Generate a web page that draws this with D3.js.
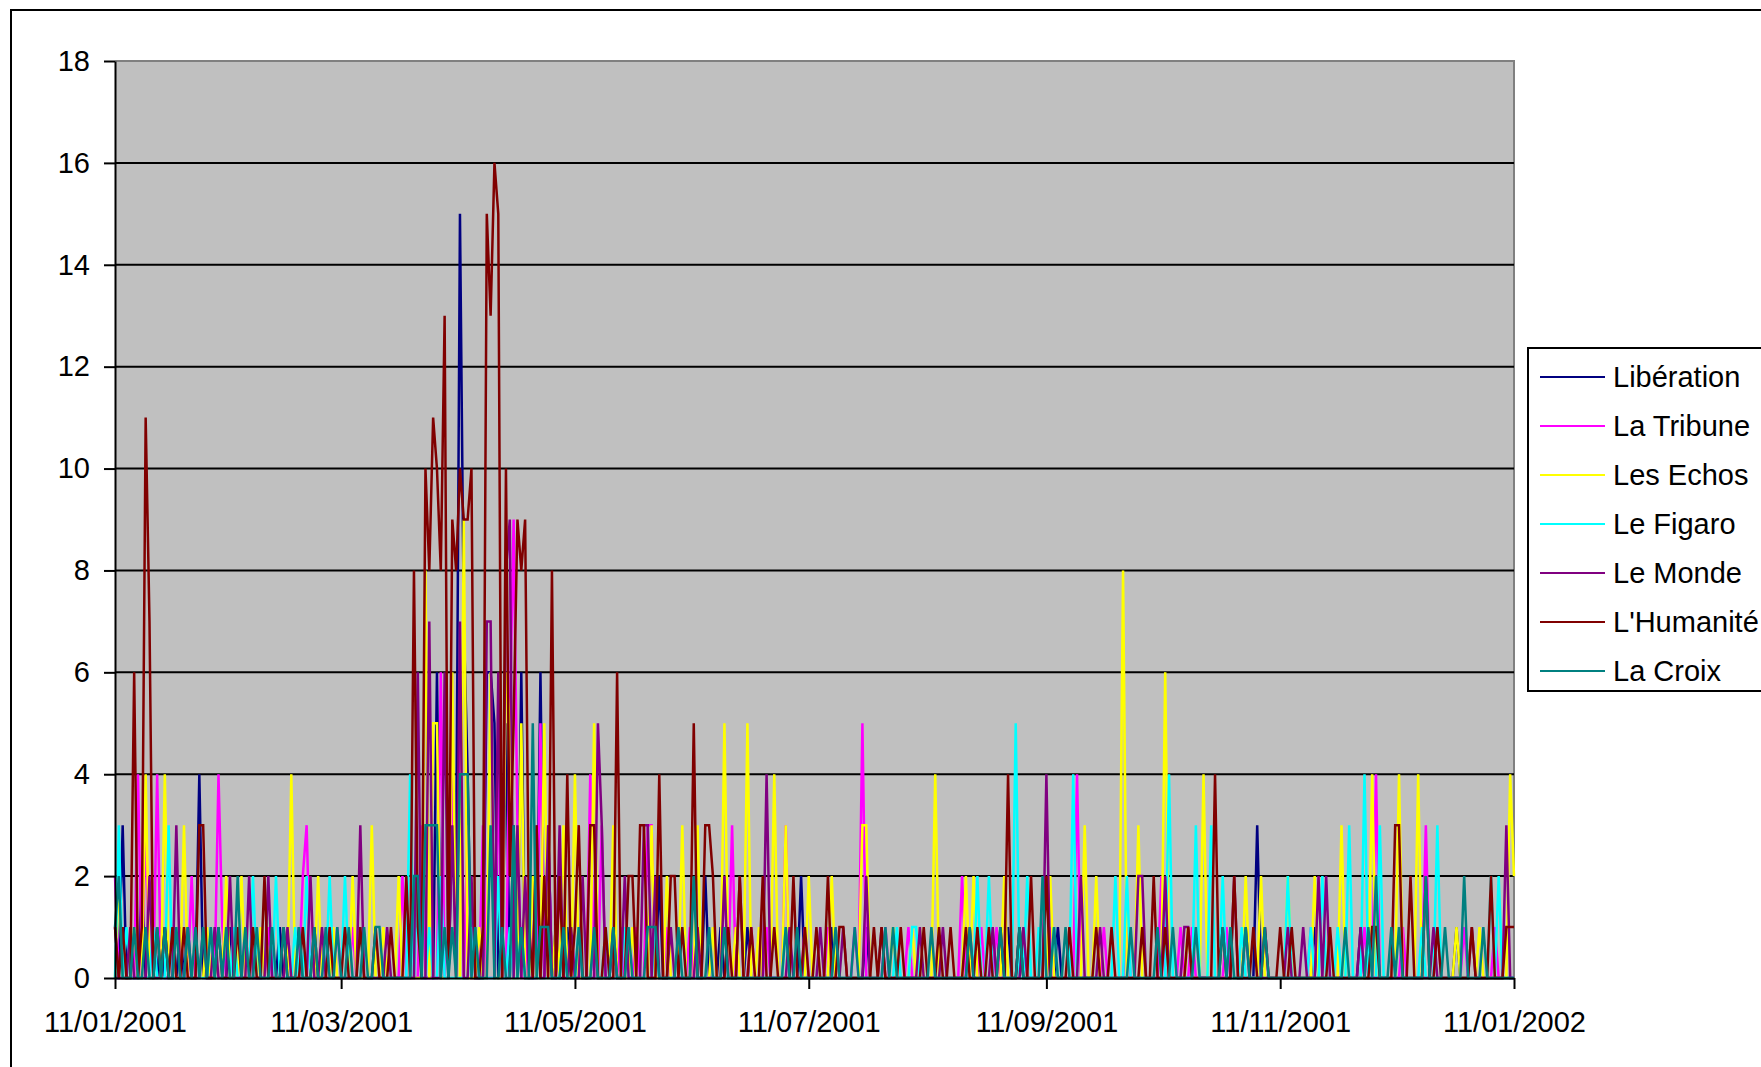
<!DOCTYPE html>
<html>
<head>
<meta charset="utf-8">
<script src="https://cdn.jsdelivr.net/npm/d3@7"></script>
<style>
  html, body { margin: 0; padding: 0; background: #fff; overflow: hidden; }
  svg { display: block; }
  text { font-family: "Liberation Sans", Arial, sans-serif; fill: #000; }
</style>
</head>
<body>
<div id="chart"></div>
<script>
// Daily counts per newspaper, 11/01/2001 -> 11/01/2002.
// Each pair is [day offset from 11/01/2001, count]; days not listed are 0.
const startDate = "2001-01-11";
const endDate = "2002-01-11";

const liberation = [[2,3],[7,2],[12,1],[17,1],[22,4],[30,1],[43,1],[48,1],[84,6],[88,3],[89,2],[90,15],[91,7],[92,4],
  [97,6],[98,6],[99,5],[102,5],[104,3],[106,6],[111,6],[113,3],[115,1],[118,1],[125,1],[130,1],[142,2],[154,2],
  [158,1],[165,1],[179,2],[187,1],[196,1],[233,1],[236,1],[246,1],[298,3],[313,1],[325,1],[350,1]];

const laTribune = [[0,2],[6,4],[8,3],[11,4],[20,2],[27,4],[28,1],[34,1],[40,1],[49,2],[50,3],[55,1],[58,1],[62,1],
  [75,2],[80,3],[85,6],[88,4],[90,5],[92,3],[96,3],[100,4],[103,5],[104,9],[105,3],[108,2],[111,5],[113,3],[116,2],
  [119,1],[124,4],[127,3],[132,1],[136,1],[139,3],[140,3],[144,1],[150,1],[159,2],[161,3],[166,1],[170,1],[175,3],
  [180,1],[186,1],[193,1],[195,5],[201,1],[207,1],[221,2],[226,1],[230,1],[244,1],[251,4],[258,1],[264,1],[273,2],
  [278,1],[281,1],[290,1],[300,1],[312,1],[326,1],[329,4],[336,1],[342,3],[345,1],[352,1],[360,1]];

const lesEchos = [[1,2],[5,1],[8,4],[13,4],[18,3],[24,1],[29,2],[33,2],[38,1],[46,4],[53,2],[57,1],[62,2],[67,3],
  [70,1],[74,2],[81,8],[83,5],[84,5],[88,6],[91,9],[95,1],[98,6],[102,6],[103,5],[106,5],[109,2],[112,5],[115,1],
  [117,3],[120,4],[125,5],[130,3],[135,1],[140,3],[144,2],[148,3],[152,3],[156,1],[159,5],[162,1],[165,5],[168,1],
  [172,4],[175,3],[181,2],[187,2],[195,3],[196,3],[203,1],[208,1],[210,1],[214,4],[222,2],[224,2],[232,2],[244,2],
  [253,3],[256,2],[263,8],[267,3],[274,6],[280,1],[284,4],[295,2],[299,2],[306,2],[313,2],[320,3],[328,4],[335,4],
  [340,4],[350,1],[356,1],[364,4],[365,2]];

const leFigaro = [[1,3],[3,1],[10,1],[14,3],[19,1],[25,1],[31,1],[36,2],[42,2],[47,1],[50,2],[56,2],[60,2],[64,1],
  [77,4],[79,2],[82,1],[85,2],[93,1],[100,2],[103,1],[106,1],[117,1],[121,1],[128,1],[133,1],[141,1],[148,1],
  [175,1],[204,1],[208,1],[209,1],[225,2],[228,2],[235,5],[238,2],[241,1],[245,1],[250,4],[261,2],[264,2],[275,4],
  [282,3],[286,3],[289,2],[294,1],[306,2],[312,1],[315,2],[319,1],[322,3],[326,4],[330,3],[341,1],[345,3],[359,2],
  [361,2]];

const leMonde = [[0,1],[4,1],[9,2],[13,1],[16,3],[19,1],[23,1],[26,1],[30,2],[35,2],[40,2],[45,1],[51,2],[54,1],
  [64,3],[71,1],[79,6],[82,7],[86,6],[88,3],[90,7],[93,2],[97,7],[98,7],[100,6],[102,8],[103,9],[105,3],[107,2],
  [110,3],[113,3],[116,3],[119,1],[122,2],[126,5],[127,3],[130,1],[133,2],[138,3],[139,3],[141,2],[145,1],[152,1],
  [159,2],[163,2],[170,4],[176,1],[184,1],[190,1],[196,2],[200,1],[210,1],[216,1],[223,1],[229,1],[237,1],[243,4],
  [252,2],[257,1],[267,2],[268,2],[274,2],[279,1],[280,1],[292,2],[295,1],[306,1],[310,1],[314,2],[316,2],[325,1],
  [344,1],[354,1],[363,3]];

const lHumanite = [[0,1],[2,1],[5,6],[7,1],[8,11],[9,7],[11,1],[13,1],[15,1],[18,1],[22,3],[23,3],[27,1],[32,1],
  [36,1],[39,2],[44,1],[49,1],[52,1],[56,1],[60,1],[64,1],[68,1],[72,1],[76,2],[78,8],[79,1],[81,10],[82,8],[83,11],
  [84,10],[85,8],[86,13],[88,9],[89,8],[90,10],[91,9],[92,9],[93,10],[96,1],[97,15],[98,13],[99,16],[100,15],
  [102,10],[103,2],[104,5],[105,9],[106,8],[107,9],[108,1],[110,3],[112,2],[114,8],[116,2],[118,4],[120,1],[121,3],
  [124,3],[125,3],[128,1],[131,6],[134,2],[135,2],[137,3],[138,3],[142,4],[145,2],[146,2],[148,1],[151,5],[154,3],
  [155,3],[156,2],[160,1],[163,2],[166,1],[169,2],[172,1],[177,2],[180,1],[183,1],[186,2],[189,1],[190,1],[198,1],
  [200,1],[205,1],[211,1],[215,1],[218,1],[222,1],[225,1],[228,1],[231,1],[233,4],[236,1],[239,2],[243,2],[249,1],
  [256,1],[260,1],[268,1],[271,2],[274,1],[280,1],[287,4],[289,1],[292,2],[297,1],[300,1],[304,1],[307,1],[317,1],
  [328,1],[329,1],[334,3],[335,3],[338,2],[342,2],[345,1],[354,1],[359,2],[363,1],[364,1],[365,1]];

const laCroix = [[0,1],[1,2],[5,1],[8,1],[11,1],[13,1],[16,1],[19,1],[21,1],[23,1],[25,1],[27,1],[29,1],[32,2],
  [34,1],[37,1],[41,1],[44,1],[48,1],[52,1],[55,1],[58,1],[61,1],[65,1],[68,1],[69,1],[78,2],[79,2],[81,3],[82,3],
  [83,3],[84,3],[86,1],[88,1],[90,4],[91,4],[92,4],[94,1],[98,3],[101,1],[104,3],[106,1],[109,5],[111,1],[112,1],
  [113,1],[117,1],[121,1],[125,1],[130,1],[134,1],[139,1],[140,1],[141,1],[147,1],[151,2],[155,1],[159,1],[175,1],
  [178,1],[188,1],[193,1],[201,1],[203,1],[213,1],[223,1],[231,1],[236,1],[242,2],[245,1],[248,1],[265,1],[272,1],
  [276,1],[282,1],[289,1],[291,1],[295,1],[300,1],[321,1],[327,1],[329,2],[333,1],[335,1],[342,2],[347,1],[352,2],
  [357,1]];

const seriesNames = ["Libération", "La Tribune", "Les Echos", "Le Figaro", "Le Monde", "L'Humanité", "La Croix"];
const seriesColors = ["#000080", "#FF00FF", "#FFFF00", "#00FFFF", "#800080", "#800000", "#008080"];
const seriesData = [liberation, laTribune, lesEchos, leFigaro, leMonde, lHumanite, laCroix];

const yTicks = [0, 2, 4, 6, 8, 10, 12, 14, 16, 18];
const xTickDates = ["2001-01-11", "2001-03-11", "2001-05-11", "2001-07-11", "2001-09-11", "2001-11-11", "2002-01-11"];

const W = 1761, H = 1067;
const plot = { left: 115, right: 1514, top: 61, bottom: 978 };

const parse = d3.utcParse("%Y-%m-%d");
const fmt = d3.utcFormat("%d/%m/%Y");
const t0 = parse(startDate);
const nDays = d3.utcDay.count(t0, parse(endDate));

const svg = d3.select("#chart").append("svg")
  .attr("width", W).attr("height", H);

// outer chart frame (runs past the right and bottom edges)
svg.append("rect")
  .attr("x", 11).attr("y", 10)
  .attr("width", 1850).attr("height", 1150)
  .attr("fill", "#fff").attr("stroke", "#000").attr("stroke-width", 2);

const x = d3.scaleUtc().domain([t0, parse(endDate)]).range([plot.left, plot.right]);
const y = d3.scaleLinear().domain([0, 18]).range([plot.bottom, plot.top]);

// plot area
svg.append("rect")
  .attr("x", plot.left).attr("y", plot.top)
  .attr("width", plot.right - plot.left).attr("height", plot.bottom - plot.top)
  .attr("fill", "#C0C0C0");
svg.append("path")
  .attr("d", `M${plot.left},${plot.top}H${plot.right}V${plot.bottom}`)
  .attr("fill", "none").attr("stroke", "#808080").attr("stroke-width", 2);

// gridlines
svg.append("g").selectAll("line")
  .data(yTicks.filter(v => v > 0 && v < 18))
  .join("line")
  .attr("x1", plot.left).attr("x2", plot.right)
  .attr("y1", d => y(d)).attr("y2", d => y(d))
  .attr("stroke", "#000").attr("stroke-width", 2);

// series lines
const line = d3.line()
  .x(d => x(d.date))
  .y(d => y(d.value));

seriesData.forEach((pairs, i) => {
  const lookup = new Map(pairs);
  const daily = d3.range(nDays + 1).map(d => ({
    date: d3.utcDay.offset(t0, d),
    value: lookup.get(d) || 0
  }));
  svg.append("path")
    .datum(daily)
    .attr("d", line)
    .attr("fill", "none")
    .attr("stroke", seriesColors[i])
    .attr("stroke-width", 2.5)
    .attr("stroke-linejoin", "miter");
});

// y axis
const yAxis = svg.append("g")
  .attr("transform", `translate(${plot.left},0)`)
  .call(d3.axisLeft(y).tickValues(yTicks).tickSize(11).tickPadding(14).tickSizeOuter(0));
yAxis.select(".domain").attr("stroke", "#000").attr("stroke-width", 2);
yAxis.selectAll(".tick line").attr("stroke", "#000").attr("stroke-width", 2);
yAxis.selectAll(".tick text")
  .attr("font-size", 29).attr("font-family", "Liberation Sans, Arial, sans-serif")
  .attr("fill", "#000");

// x axis
const xAxis = svg.append("g")
  .attr("transform", `translate(0,${plot.bottom})`)
  .call(d3.axisBottom(x).tickValues(xTickDates.map(parse)).tickFormat(fmt)
    .tickSize(11).tickPadding(22).tickSizeOuter(0));
xAxis.select(".domain").attr("stroke", "#000").attr("stroke-width", 2);
xAxis.selectAll(".tick line").attr("stroke", "#000").attr("stroke-width", 2);
xAxis.selectAll(".tick text")
  .attr("font-size", 29).attr("font-family", "Liberation Sans, Arial, sans-serif")
  .attr("fill", "#000");

// legend
const legend = svg.append("g").attr("transform", "translate(1528,348)");
legend.append("rect")
  .attr("x", 0).attr("y", 0).attr("width", 300).attr("height", 343)
  .attr("fill", "#fff").attr("stroke", "#000").attr("stroke-width", 2);
const item = legend.selectAll("g.item")
  .data(seriesNames)
  .join("g")
  .attr("class", "item")
  .attr("transform", (d, i) => `translate(0,${29 + i * 49})`);
item.append("line")
  .attr("x1", 12).attr("x2", 77).attr("y1", 0).attr("y2", 0)
  .attr("stroke", (d, i) => seriesColors[i]).attr("stroke-width", 2);
item.append("text")
  .attr("x", 85).attr("y", 0).attr("dy", "0.35em")
  .attr("font-size", 29)
  .text(d => d);
</script>
</body>
</html>
